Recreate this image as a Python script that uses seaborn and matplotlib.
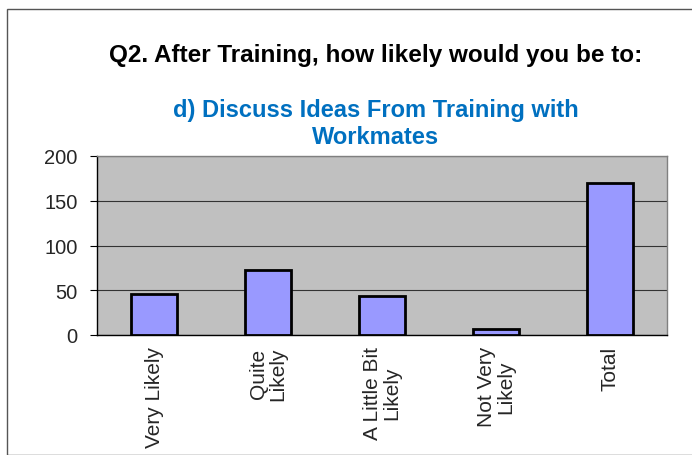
import matplotlib
matplotlib.use("Agg")
import matplotlib.pyplot as plt
import seaborn as sns
import pandas as pd
from matplotlib.patches import Rectangle

categories = ["Very Likely", "Quite\nLikely", "A Little Bit\nLikely", "Not Very\nLikely", "Total"]
values = [46, 73, 44, 7, 170]
yticks = [0, 50, 100, 150, 200]

sns.set_style("white")
plt.rcParams['font.family'] = ['Liberation Sans', 'DejaVu Sans']

fig = plt.figure(figsize=(6.92, 4.56), dpi=100)
ax = fig.add_axes([97/692, 1-336/456, 570/692, 179/456])

df = pd.DataFrame({"cat": categories, "val": values})
sns.barplot(data=df, x="cat", y="val", ax=ax, color="#9999FF", saturation=1,
            edgecolor="black", linewidth=2, width=0.4, zorder=3)

ax.set_facecolor("#C0C0C0")
ax.set_ylim(0, 200)
ax.set_xlim(-0.5, len(categories) - 0.5)
ax.set_yticks(yticks)
ax.set_yticklabels([str(v) for v in yticks], fontsize=14.5)
ax.yaxis.grid(True, color="#333333", linewidth=0.8, zorder=0)
ax.set_axisbelow(True)
ax.set_xlabel("")
ax.set_ylabel("")

ax.set_xticks(range(len(categories)))
ax.set_xticklabels(categories, rotation=90, fontsize=15, va="top", ha="center",
                   multialignment="center", linespacing=1.05)
ax.set_xticks([i - 0.5 for i in range(len(categories) + 1)], minor=True)
ax.tick_params(axis="x", which="major", length=0, pad=8)
ax.tick_params(axis="x", which="minor", length=5, width=0.8, color="black", direction="out")
ax.tick_params(axis="y", which="major", length=5, width=0.8, color="black", direction="out", left=True, pad=9)

for s in ["top", "right"]:
    ax.spines[s].set_color("#808080")
    ax.spines[s].set_linewidth(1)
for s in ["left", "bottom"]:
    ax.spines[s].set_color("black")
    ax.spines[s].set_linewidth(1)

fig.text(376/692, 1-56/456, "Q2. After Training, how likely would you be to:",
         ha="center", va="center", fontsize=17.5, fontweight="bold", color="black")
fig.text(376/692, 1-111/456, "d) Discuss Ideas From Training with",
         ha="center", va="center", fontsize=17, fontweight="bold", color="#0070C0")
fig.text(376/692, 1-137/456, "Workmates",
         ha="center", va="center", fontsize=17, fontweight="bold", color="#0070C0")

fig.patches.append(Rectangle((7/692, 0), 1, 1 - 10/456, transform=fig.transFigure,
                             fill=False, edgecolor="#555555", linewidth=1))

fig.savefig("out.png", dpi=100)
